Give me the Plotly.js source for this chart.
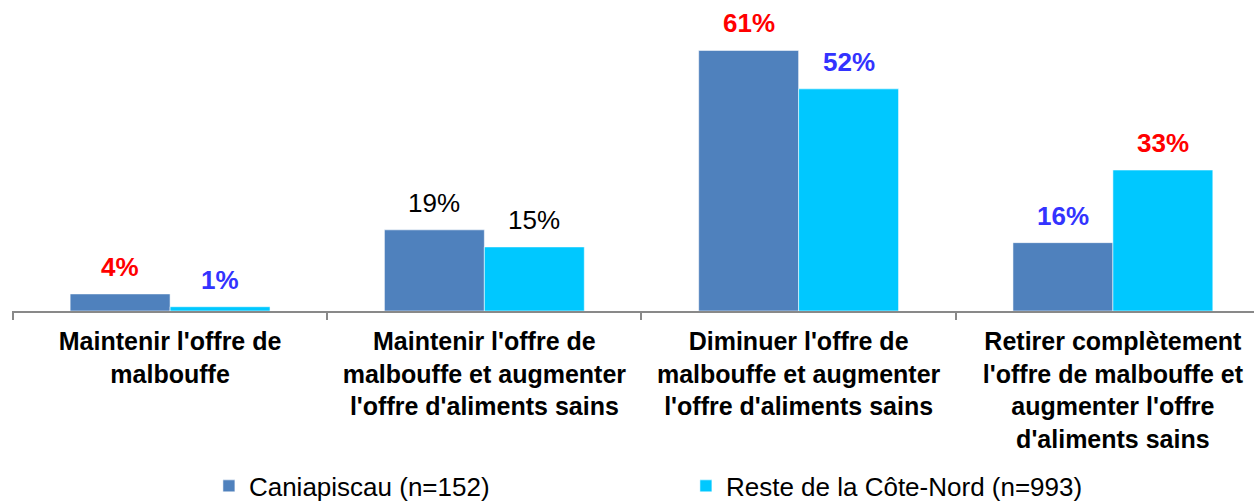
<!DOCTYPE html>
<html>
<head>
<meta charset="utf-8">
<script src="https://cdn.plot.ly/plotly-3.0.1.min.js"></script>
<style>html,body{margin:0;padding:0;background:#fff;}#chart{width:1254px;height:501px;}</style>
</head>
<body>
<div id="chart"></div>
<script>
const categories = [
  "Maintenir l'offre de<br>malbouffe",
  "Maintenir l'offre de<br>malbouffe et augmenter<br>l'offre d'aliments sains",
  "Diminuer l'offre de<br>malbouffe et augmenter<br>l'offre d'aliments sains",
  "Retirer complètement<br>l'offre de malbouffe et<br>augmenter l'offre<br>d'aliments sains"
];
const seriesNames = ["Caniapiscau (n=152)", "Reste de la Côte-Nord (n=993)"];
const caniapiscau = [4, 19, 61, 16];
const resteCoteNord = [1, 15, 52, 33];
// significance flag per label: "high" (red, bold), "low" (blue, bold), "none" (black, regular)
const caniapiscauSig = ["high", "none", "high", "low"];
const resteSig = ["low", "none", "low", "high"];

const sigColor = {high: "#FF0000", low: "#3333FF", none: "#000000"};
const FONT = "Arial, 'Liberation Sans', sans-serif";

const traces = [
  {type: "bar", name: seriesNames[0], x: categories, y: caniapiscau,
   marker: {color: "#4F81BD", line: {color: "rgba(255,255,255,0.55)", width: 1}}, hoverinfo: "skip"},
  {type: "bar", name: seriesNames[1], x: categories, y: resteCoteNord,
   marker: {color: "#00C8FF", line: {color: "rgba(255,255,255,0.55)", width: 1}}, hoverinfo: "skip"}
];

const annotations = [];
function addLabels(values, sig, shift) {
  values.forEach((v, i) => {
    const bold = sig[i] !== "none";
    annotations.push({
      x: categories[i], y: v, xref: "x", yref: "y",
      text: bold ? "<b>" + v + "%</b>" : v + "%",
      showarrow: false, xshift: shift, yshift: 10, yanchor: "bottom",
      font: {family: FONT, size: 26, color: sigColor[sig[i]]}
    });
  });
}
addLabels(caniapiscau, caniapiscauSig, -50);
addLabels(resteCoteNord, resteSig, 50);

const layout = {
  width: 1254, height: 501,
  margin: {l: 12, r: 0, t: 0, b: 190},
  paper_bgcolor: "#ffffff", plot_bgcolor: "#ffffff",
  barmode: "group", bargap: 0.364, bargroupgap: 0,
  font: {family: FONT, color: "#000"},
  xaxis: {
    type: "category", range: [-0.503, 3.449],
    showline: true, linecolor: "#898989", linewidth: 2,
    ticks: "outside", tickson: "boundaries", ticklen: 7, tickwidth: 2, tickcolor: "#898989",
    ticklabelstandoff: 7,
    tickfont: {family: FONT, size: 25, color: "#000", weight: "bold"},
    showgrid: false, zeroline: false, fixedrange: true
  },
  yaxis: {
    range: [0, 72.8], visible: false, showgrid: false, zeroline: false, fixedrange: true
  },
  showlegend: true,
  legend: {
    orientation: "h", xref: "container", yref: "container",
    x: 0.1666, xanchor: "left", y: 0.03, yanchor: "middle",
    entrywidth: 432, entrywidthmode: "pixels",
    font: {family: FONT, size: 26, color: "#000"},
    traceorder: "normal"
  },
  annotations: annotations
};

Plotly.newPlot("chart", traces, layout, {displayModeBar: false, staticPlot: true});
</script>
</body>
</html>
